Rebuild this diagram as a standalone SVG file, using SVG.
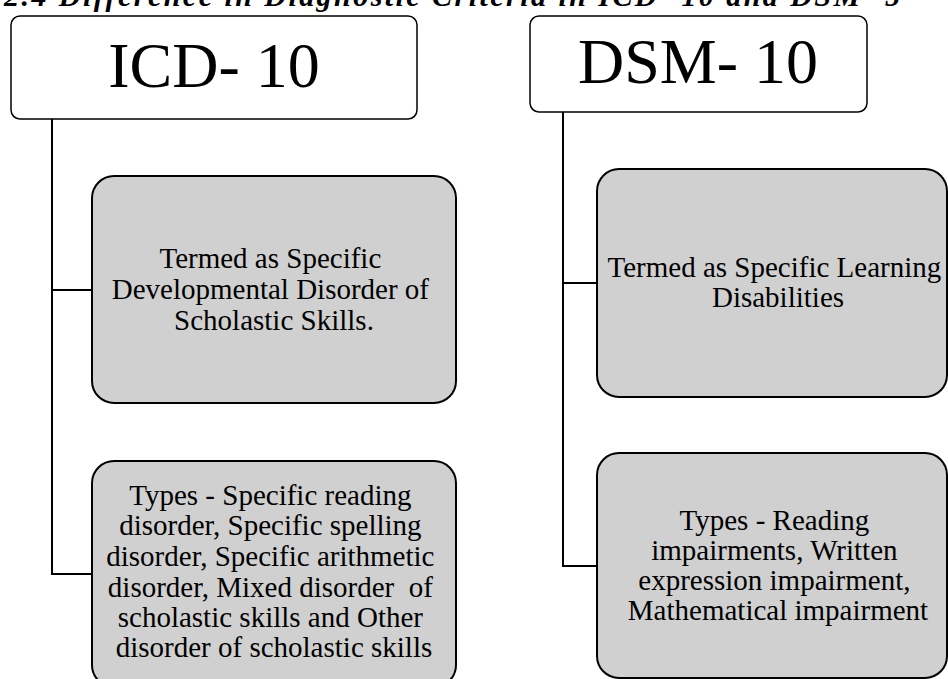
<svg xmlns="http://www.w3.org/2000/svg" width="948" height="679" viewBox="0 0 948 679">
  <style>
    .head { fill: #ffffff; stroke: #000000; stroke-width: 1.5; }
    .item { fill: #d0d0d0; stroke: #000000; stroke-width: 2; }
    .link { fill: none; stroke: #000000; stroke-width: 2; }
    .big { font-family: "Liberation Serif", "Times New Roman", serif; font-size: 64px; fill: #000000; text-anchor: middle; }
    .body { font-family: "Liberation Serif", "Times New Roman", serif; font-size: 29px; fill: #000000; text-anchor: middle; }
    .title { font-family: "Liberation Serif", "Times New Roman", serif; font-size: 30px; font-weight: bold; font-style: italic; fill: #000000; }
  </style>
  <rect width="948" height="679" fill="#ffffff"/>

  <!-- section heading, running off the top edge -->
  <text class="title" x="4" y="6" textLength="896" lengthAdjust="spacing">2.4 Difference in Diagnostic Criteria in ICD- 10 and DSM- 5</text>

  <!-- elbow connectors from each header down its column -->
  <g id="connectors">
    <path class="link" d="M52,119 V574 H92"/>
    <path class="link" d="M52,290 H92"/>
    <path class="link" d="M563,112 V566 H597"/>
    <path class="link" d="M563,283 H597"/>
  </g>

  <g id="icd-header">
    <rect class="head" x="11" y="16" width="406" height="103" rx="9"/>
    <text class="big" x="214" y="87">ICD- 10</text>
  </g>

  <g id="dsm-header">
    <rect class="head" x="530" y="16" width="337" height="96" rx="9"/>
    <text class="big" x="698" y="83">DSM- 10</text>
  </g>

  <g id="icd-term">
    <rect class="item" x="92" y="176" width="364" height="227" rx="22"/>
    <text class="body">
      <tspan x="274" y="268">Termed as Specific</tspan>
      <tspan x="274" y="299">Developmental Disorder of</tspan>
      <tspan x="274" y="330">Scholastic Skills.</tspan>
    </text>
  </g>

  <g id="icd-types">
    <rect class="item" x="92" y="461" width="364" height="226" rx="22"/>
    <text class="body">
      <tspan x="274" y="505">Types - Specific reading</tspan>
      <tspan x="274" y="535">disorder, Specific spelling</tspan>
      <tspan x="274" y="566">disorder, Specific arithmetic</tspan>
      <tspan x="274" y="597" xml:space="preserve">disorder, Mixed disorder  of</tspan>
      <tspan x="274" y="627">scholastic skills and Other</tspan>
      <tspan x="274" y="657">disorder of scholastic skills</tspan>
    </text>
  </g>

  <g id="dsm-term">
    <rect class="item" x="597" y="169" width="350" height="228" rx="22"/>
    <text class="body">
      <tspan x="778" y="277">Termed as Specific Learning</tspan>
      <tspan x="778" y="307">Disabilities</tspan>
    </text>
  </g>

  <g id="dsm-types">
    <rect class="item" x="597" y="453" width="350" height="225" rx="22"/>
    <text class="body">
      <tspan x="778" y="530">Types - Reading</tspan>
      <tspan x="778" y="560">impairments, Written</tspan>
      <tspan x="778" y="590">expression impairment,</tspan>
      <tspan x="778" y="620">Mathematical impairment</tspan>
    </text>
  </g>
</svg>
